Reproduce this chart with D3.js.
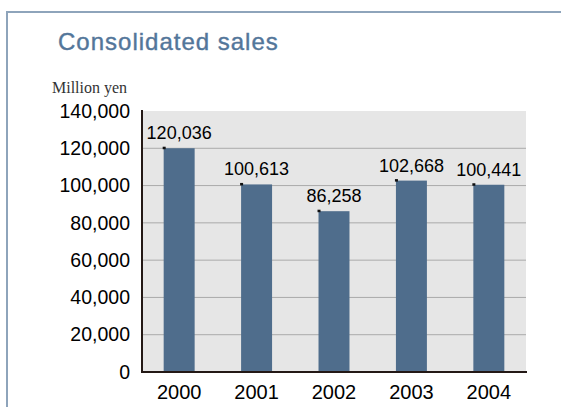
<!DOCTYPE html>
<html>
<head>
<meta charset="utf-8">
<script src="https://cdn.jsdelivr.net/npm/d3@7"></script>
<style>
  body { margin: 0; background: #fff; }
  svg { display: block; }
</style>
</head>
<body>
<svg id="chart" width="561" height="407"></svg>
<script>
// Data
const years = ['2000', '2001', '2002', '2003', '2004'];
const sales = [120036, 100613, 86258, 102668, 100441];
const yTicks = [0, 20000, 40000, 60000, 80000, 100000, 120000, 140000];

const svg = d3.select('#chart');
const fmt = d3.format(',');

// Frame
svg.append('line')
  .attr('x1', 7).attr('x2', 561).attr('y1', 12).attr('y2', 12)
  .attr('stroke', '#8ea4bb').attr('stroke-width', 2);
svg.append('line')
  .attr('x1', 7).attr('x2', 7).attr('y1', 11).attr('y2', 407)
  .attr('stroke', '#8ea4bb').attr('stroke-width', 2);

// Title
svg.append('text')
  .attr('x', 58).attr('y', 50)
  .attr('font-family', 'Liberation Sans, Arial, sans-serif')
  .attr('font-size', 24)
  .attr('letter-spacing', 1)
  .attr('fill', '#53769a')
  .attr('stroke', '#53769a')
  .attr('stroke-width', 0.4)
  .text('Consolidated sales');

svg.append('text')
  .attr('x', 52).attr('y', 93)
  .attr('font-family', 'Liberation Serif, Times New Roman, serif')
  .attr('font-size', 16)
  .attr('fill', '#333')
  .text('Million yen');

// Scales
const plotLeft = 142, plotRight = 526, plotTop = 111, plotBottom = 372;
const x = d3.scaleBand().domain(years).range([plotLeft, plotRight]).paddingInner(0.6).paddingOuter(0.28);
const y = d3.scaleLinear().domain([0, 140000]).range([plotBottom, plotTop]);

// Plot background
svg.append('rect')
  .attr('x', plotLeft).attr('y', plotTop)
  .attr('width', plotRight - plotLeft).attr('height', plotBottom - plotTop)
  .attr('fill', '#e6e6e6');

// Gridlines
svg.append('g')
  .selectAll('line')
  .data(yTicks.filter(d => d > 0 && d < 140000))
  .enter()
  .append('line')
  .attr('x1', plotLeft).attr('x2', plotRight)
  .attr('y1', d => y(d)).attr('y2', d => y(d))
  .attr('stroke', '#aaaaaa').attr('stroke-width', 1);

// Bars
svg.append('g')
  .selectAll('rect')
  .data(sales)
  .enter()
  .append('rect')
  .attr('x', (d, i) => x(years[i]))
  .attr('y', d => y(d))
  .attr('width', x.bandwidth())
  .attr('height', d => plotBottom - y(d))
  .attr('fill', '#4f6d8c');

// Small markers on bar tops
svg.append('g')
  .selectAll('rect')
  .data(sales)
  .enter()
  .append('rect')
  .attr('x', (d, i) => x(years[i]) - 1)
  .attr('y', d => y(d) - 1.5)
  .attr('width', 3).attr('height', 2.5)
  .attr('fill', '#111');

// Value labels
svg.append('g')
  .selectAll('text')
  .data(sales)
  .enter()
  .append('text')
  .attr('x', (d, i) => x(years[i]) + x.bandwidth() / 2)
  .attr('y', d => y(d) - 9)
  .attr('text-anchor', 'middle')
  .attr('font-family', 'Liberation Sans, Arial, sans-serif')
  .attr('font-size', 18)
  .attr('fill', '#000')
  .text(d => fmt(d));

// Y axis
const yAxis = d3.axisLeft(y).tickValues(yTicks).tickFormat(fmt).tickSize(0).tickPadding(12);
const gy = svg.append('g').attr('transform', `translate(${plotLeft},0)`).call(yAxis);
gy.select('.domain').remove();
gy.selectAll('text')
  .attr('font-family', 'Liberation Sans, Arial, sans-serif')
  .attr('font-size', 19.5)
  .attr('fill', '#000');

// X axis
const xAxis = d3.axisBottom(x).tickSize(0).tickPadding(13);
const gx = svg.append('g').attr('transform', `translate(0,${plotBottom})`).call(xAxis);
gx.select('.domain').remove();
gx.selectAll('text')
  .attr('font-family', 'Liberation Sans, Arial, sans-serif')
  .attr('font-size', 20)
  .attr('fill', '#000');

// Axis lines
svg.append('line')
  .attr('x1', plotLeft).attr('x2', plotLeft).attr('y1', plotTop - 1).attr('y2', plotBottom + 1)
  .attr('stroke', '#231815').attr('stroke-width', 2);
svg.append('line')
  .attr('x1', plotLeft - 1).attr('x2', plotRight + 1).attr('y1', plotBottom).attr('y2', plotBottom)
  .attr('stroke', '#231815').attr('stroke-width', 2);
</script>
</body>
</html>
